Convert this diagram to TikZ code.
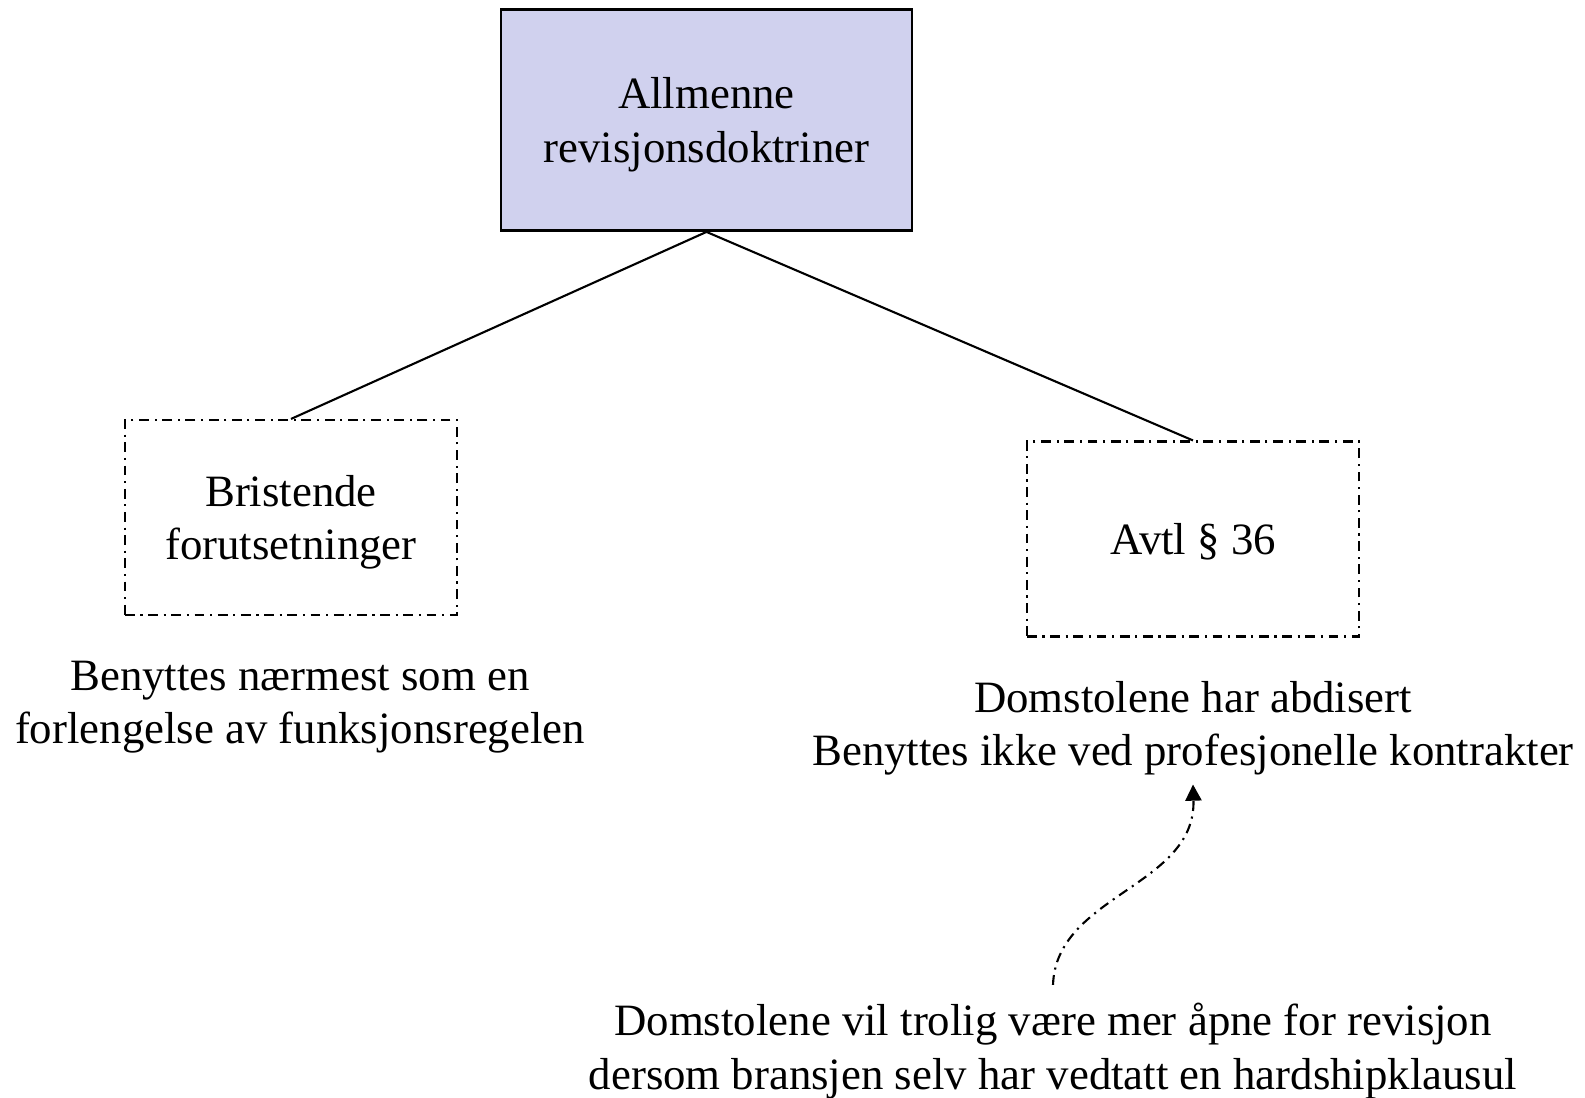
\documentclass[tikz,border=0pt]{standalone}
\usepackage{fontspec}
\setmainfont{Liberation Serif}
\usetikzlibrary{arrows.meta}
\definecolor{lilla}{RGB}{208,209,238}

\begin{document}
\begin{tikzpicture}[x=1cm,y=1cm,
    font=\fontsize{12.75}{15.2}\selectfont,
    hoved/.style={draw,line width=0.8pt,fill=lilla,minimum width=4.11cm,minimum height=2.21cm,align=center,text depth=0pt},
    doktrine/.style={draw,line width=0.6pt,dash pattern=on 2.8pt off 1.6pt on 0.6pt off 1.6pt,minimum width=3.32cm,minimum height=1.95cm,align=center,text depth=0pt},
    merknad/.style={align=center}]
                \useasboundingbox (0,0) rectangle (15.85,-10.97);

                % Boxes
                \node[hoved] (allmenne) at (7.065,-1.20) {Allmenne\\revisjonsdoktriner};
                \node[doktrine] (bristende) at (2.91,-5.175) {Bristende\\forutsetninger};
                \node[doktrine] (avtl) at (11.93,-5.39) {Avtl § 36};

                % Lines
                \draw[line width=0.6pt] (allmenne.south) -- (bristende.north);
                \draw[line width=0.6pt] (allmenne.south) -- (avtl.north);

                % Notes
                \node[merknad] (funksjon) at (3.00,-7.07) {Benyttes nærmest som en\\forlengelse av funksjonsregelen};
                \node[merknad] (abdisert) at (11.93,-7.28) {Domstolene har abdisert\\Benyttes ikke ved profesjonelle kontrakter};
                \node[merknad] (bransje) at (10.53,-10.51) {Domstolene vil trolig være mer åpne for revisjon\\dersom bransjen selv har vedtatt en hardshipklausul};

                % Arrow
                \draw[line width=0.6pt,dash pattern=on 2.8pt off 1.6pt on 0.6pt off 1.6pt,-{Triangle[length=4.6pt,width=4.6pt]}]
                    ([yshift=0.6mm]bransje.north) .. controls +(0.03,0.9) and +(0.03,-1.02) .. ([yshift=0.3mm]abdisert.south);
\end{tikzpicture}
\end{document}
